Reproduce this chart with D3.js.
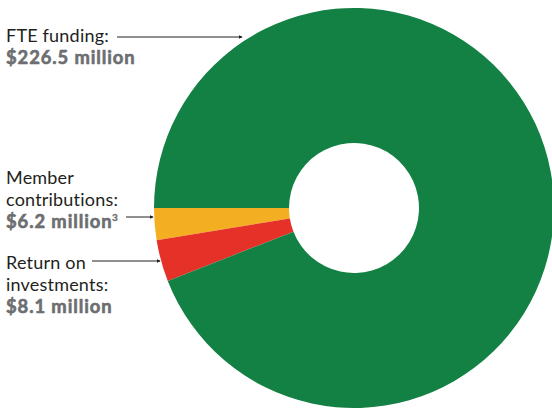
<!DOCTYPE html>
<html>
<head>
<meta charset="utf-8">
<script src="https://cdn.jsdelivr.net/npm/d3@7"></script>
<style>
  body { margin: 0; background: #fff; }
  svg { display: block; }
  text { font-family: Lato, "Open Sans", sans-serif; }
</style>
</head>
<body>
<div id="chart"></div>
<script>
// funding sources, $ millions
var sources = ['Member contributions', 'Return on investments', 'FTE funding']
var values = [6.2, 8.1, 226.5]
var colors = ['#f4ae22', '#e63128', '#138144']

// label lines, same order as sources
var labelLines = [
  ['Member', 'contributions:'],
  ['Return on', 'investments:'],
  ['FTE funding:']
]
var amountLabels = ['$6.2 million', '$8.1 million', '$226.5 million']
var footnotes = ['3', '', '']

var width = 552
var height = 409
var cx = 354
var cy = 208
var outerR = 200
var innerR = 65

var svg = d3.select('#chart')
  .append('svg')
  .attr('width', width)
  .attr('height', height)

svg.append('defs').append('marker')
  .attr('id', 'tip')
  .attr('viewBox', '0 0 6 6')
  .attr('refX', 5)
  .attr('refY', 3)
  .attr('markerWidth', 4)
  .attr('markerHeight', 4)
  .attr('orient', 'auto')
  .append('path')
  .attr('d', 'M0,0L6,3L0,6Z')
  .attr('fill', '#231f20')

// start at 9 o'clock, run counter-clockwise so the small slices sit below
var pie = d3.pie()
  .sort(null)
  .startAngle(-Math.PI / 2)
  .endAngle(-Math.PI / 2 - 2 * Math.PI)

var arc = d3.arc()
  .innerRadius(innerR)
  .outerRadius(outerR)

var g = svg.append('g')
  .attr('transform', 'translate(' + cx + ',' + cy + ')')

g.selectAll('path')
  .data(pie(values))
  .enter()
  .append('path')
  .attr('d', arc)
  .attr('fill', function(d, i) { return colors[i] })

// label layout: x, first baseline, line from x1 to x2 at y
var layout = [
  { x: 6, y: 184, lx1: 126, lx2: 153, ly: 217 },
  { x: 6, y: 269, lx1: 92, lx2: 160, ly: 261 },
  { x: 6, y: 42, lx1: 117, lx2: 242, ly: 37 }
]
var lineH = 22

sources.forEach(function(name, i) {
  var pos = layout[i]
  var t = svg.append('g').attr('class', 'label')

  labelLines[i].forEach(function(line, j) {
    t.append('text')
      .attr('x', pos.x)
      .attr('y', pos.y + j * lineH)
      .attr('font-size', 18)
      .attr('letter-spacing', 0.2)
      .attr('fill', '#231f20')
      .text(line)
  })

  var amt = t.append('text')
    .attr('x', pos.x)
    .attr('y', pos.y + labelLines[i].length * lineH)
    .attr('font-size', 18.4)
    .attr('font-weight', 700)
    .attr('fill', '#6d6e71')
    .attr('stroke', '#6d6e71')
    .attr('stroke-width', 0.6)
    .attr('letter-spacing', 0.9)
    .text(amountLabels[i])
  if (footnotes[i]) {
    amt.append('tspan')
      .attr('dy', -7)
      .attr('dx', -0.5)
      .attr('font-size', 10)
      .attr('stroke-width', 0.3)
      .attr('letter-spacing', 0)
      .text(footnotes[i])
  }

  svg.append('line')
    .attr('x1', pos.lx1)
    .attr('x2', pos.lx2)
    .attr('y1', pos.ly)
    .attr('y2', pos.ly)
    .attr('stroke', '#231f20')
    .attr('stroke-width', 1)
    .attr('marker-end', 'url(#tip)')
})
</script>
</body>
</html>
